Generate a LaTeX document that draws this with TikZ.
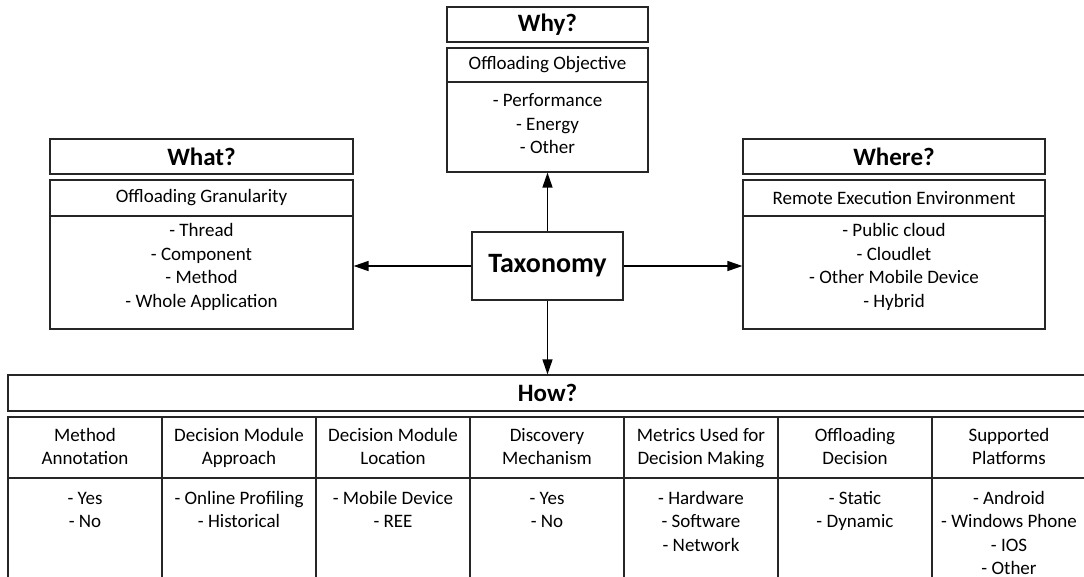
\documentclass[tikz,border=0pt]{standalone}
\usepackage{fontspec}
\setmainfont{Carlito}
\usetikzlibrary{arrows.meta}
\begin{document}
\begin{tikzpicture}[x=1pt,y=-1pt,
  box/.style={draw=black!85, line width=1.2pt, inner sep=0pt},
  ttl/.style={font=\bfseries\fontsize{25}{30}\selectfont},
  sub/.style={font=\fontsize{19}{23.5}\selectfont},
  lst/.style={font=\fontsize{19}{23.5}\selectfont, align=center, inner sep=0pt, anchor=north},
  arr/.style={line width=1.3pt, draw=black, -{Triangle[length=15pt,width=10pt]}},
]
\clip (0,0) rectangle (1084,576);
\fill[white] (0,0) rectangle (1084,576);

% Why? (top)
\node[box, ttl, minimum width=201, minimum height=35] (whyt) at (547.5,24.5) {Why?};
\node[box, sub, minimum width=201, minimum height=34] (whys) at (547.5,65) {Offloading Objective};
\node[box, minimum width=201, minimum height=90] (whyb) at (547.5,127) {};
\node[lst] (whyl) at (547.5,90) {\strut- Performance\\- Energy\\- Other\strut};

% What? (left)
\node[box, ttl, minimum width=303, minimum height=35] (whatt) at (201.5,156.5) {What?};
\node[box, sub, minimum width=303, minimum height=36] (whats) at (201.5,198) {Offloading Granularity};
\node[box, minimum width=303, minimum height=113] (whatb) at (201.5,272.5) {};
\node[lst] (whatl) at (201.5,220) {\strut- Thread\\- Component\\- Method\\- Whole Application\strut};

% Where? (right)
\node[box, ttl, minimum width=302, minimum height=35] (wheret) at (894,156.5) {Where?};
\node[box, sub, minimum width=302, minimum height=36] (wheres) at (894,198) {Remote Execution Environment};
\node[box, minimum width=302, minimum height=113] (whereb) at (894,272.5) {};
\node[lst] (wherel) at (894,220) {\strut- Public cloud\\- Cloudlet\\- Other Mobile Device\\- Hybrid\strut};

% Centre
\node[box, minimum width=151, minimum height=68,
      font=\bfseries\fontsize{28}{32}\selectfont] (tax) at (547.5,266) {Taxonomy};

% How? (bottom)
\node[box, ttl, minimum width=1079, minimum height=36] (howt) at (547.5,393) {How?};
\foreach \i/\hd/\it in {
  1/{Method\\Annotation}/{- Yes\\- No},
  2/{Decision Module\\Approach}/{- Online Profiling\\- Historical},
  3/{Decision Module\\Location}/{- Mobile Device\\- REE},
  4/{Discovery\\Mechanism}/{- Yes\\- No},
  5/{Metrics Used for\\Decision Making}/{- Hardware\\- Software\\- Network},
  6/{Offloading\\Decision}/{- Static\\- Dynamic},
  7/{Supported\\Platforms}/{- Android\\- Windows Phone\\- IOS\\- Other}} {
  \pgfmathsetmacro{\cx}{85+154*(\i-1)}
  \node[box, minimum width=154, minimum height=61] (h\i) at (\cx,447.5) {};
  \node[lst, anchor=center] (ht\i) at (\cx,448.5) {\strut\hd\strut};
  \node[box, minimum width=154, minimum height=122] (c\i) at (\cx,539) {};
  \node[lst] (l\i) at (\cx,487.5) {\strut\it\strut};
}

% Connectors
\draw[arr] (tax.north) -- (whyb.south);
\draw[arr] (tax.south) -- (howt.north);
\draw[arr] (tax.west) -- (tax.west -| whatb.east);
\draw[arr] (tax.east) -- (tax.east -| whereb.west);
\end{tikzpicture}
\end{document}
